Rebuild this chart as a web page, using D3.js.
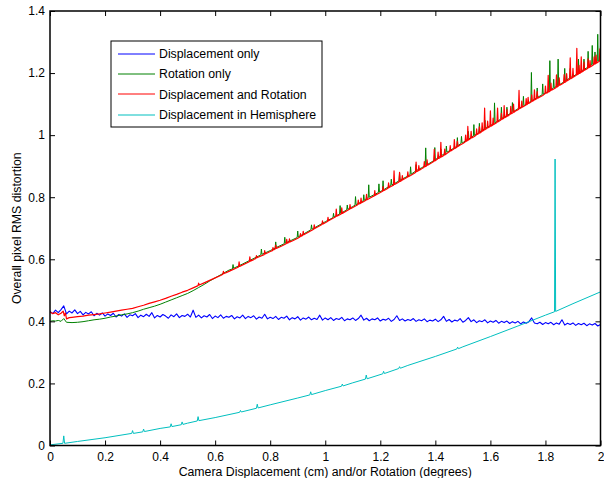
<!DOCTYPE html>
<html><head><meta charset="utf-8">
<script src="https://cdn.jsdelivr.net/npm/d3@7"></script>
<style>
html,body{margin:0;padding:0;background:#fff;}
svg{display:block;font-family:"Liberation Sans",Arial,sans-serif;}
</style></head>
<body><svg id="c" width="604" height="478"></svg>
<script>
// ---- data ----
const seriesNames = ["Displacement only","Rotation only","Displacement and Rotation","Displacement in Hemisphere"];
const xTicks = [0,0.2,0.4,0.6,0.8,1,1.2,1.4,1.6,1.8,2];
const yTicks = [0,0.2,0.4,0.6,0.8,1,1.2,1.4];
// sampling grid for the blue series: 0 .. 2 step 0.01
const blueX = d3.range(201).map(i => i / 100);
const blueY = [
0.432,0.425,0.436,0.428,0.438,0.450,0.424,0.433,0.427,0.437,
0.425,0.432,0.421,0.429,0.424,0.431,0.418,0.426,0.420,0.427,
0.417,0.424,0.419,0.426,0.414,0.422,0.417,0.424,0.413,0.421,
0.418,0.425,0.412,0.420,0.415,0.423,0.416,0.428,0.411,0.419,
0.414,0.422,0.417,0.410,0.421,0.415,0.424,0.412,0.419,0.416,
0.423,0.414,0.436,0.413,0.420,0.411,0.418,0.414,0.422,0.409,
0.417,0.412,0.421,0.410,0.416,0.413,0.419,0.408,0.415,0.411,
0.420,0.409,0.416,0.412,0.418,0.407,0.414,0.410,0.423,0.408,
0.413,0.409,0.416,0.406,0.413,0.410,0.417,0.405,0.412,0.408,
0.415,0.404,0.411,0.407,0.414,0.405,0.410,0.406,0.420,0.404,
0.411,0.405,0.412,0.403,0.409,0.406,0.413,0.402,0.408,0.405,
0.411,0.403,0.409,0.420,0.404,0.410,0.402,0.408,0.405,0.411,
0.401,0.407,0.404,0.410,0.400,0.406,0.418,0.403,0.408,0.401,
0.406,0.403,0.409,0.400,0.405,0.402,0.408,0.399,0.404,0.401,
0.407,0.399,0.405,0.416,0.400,0.406,0.398,0.404,0.401,0.409,
0.397,0.403,0.412,0.399,0.405,0.396,0.402,0.399,0.405,0.395,
0.401,0.397,0.403,0.394,0.400,0.396,0.401,0.393,0.399,0.395,
0.400,0.392,0.398,0.394,0.399,0.411,0.395,0.392,0.397,0.390,
0.396,0.392,0.397,0.389,0.395,0.391,0.405,0.388,0.394,0.390,
0.395,0.387,0.393,0.389,0.394,0.386,0.392,0.388,0.393,0.385,
0.390];

// Rotation only: [x, y] points (narrow spikes as triplets)
const greenPts = [
[0,0.400],[0.01,0.402],[0.02,0.401],[0.03,0.403],[0.04,0.400],[0.05,0.409],[0.06,0.397],[0.08,0.396],
[0.10,0.397],[0.12,0.399],[0.14,0.402],[0.16,0.405],[0.18,0.407],[0.20,0.410],[0.22,0.414],[0.24,0.417],
[0.26,0.421],[0.28,0.424],[0.30,0.428],[0.32,0.433],[0.34,0.439],[0.36,0.444],[0.38,0.449],[0.40,0.455],
[0.42,0.462],[0.44,0.469],[0.46,0.476],[0.48,0.483],[0.50,0.490],[0.52,0.499],[0.54,0.509],[0.56,0.519],
[0.58,0.530],[0.60,0.540],[0.65,0.565],
[0.663,0.569],[0.665,0.583],[0.667,0.571],[0.70,0.585],[0.75,0.607],
[0.766,0.614],[0.768,0.633],[0.770,0.616],[0.80,0.628],
[0.818,0.636],[0.82,0.656],[0.822,0.638],
[0.851,0.650],[0.853,0.671],[0.855,0.652],
[0.898,0.670],[0.90,0.691],[0.902,0.672],
[0.948,0.695],[0.95,0.711],[0.952,0.697],[1.00,0.721],[1.05,0.745],
[1.052,0.746],[1.054,0.773],[1.056,0.748],[1.10,0.770],
[1.108,0.774],[1.11,0.802],[1.112,0.776],[1.15,0.796],
[1.156,0.798],[1.158,0.840],[1.160,0.800],
[1.193,0.815],[1.195,0.843],[1.197,0.817],
[1.208,0.822],[1.21,0.853],[1.212,0.824],[1.25,0.843],[1.30,0.868],
[1.308,0.872],[1.31,0.898],[1.312,0.874],[1.35,0.895],
[1.363,0.901],[1.365,0.959],[1.367,0.903],
[1.396,0.919],[1.398,0.960],[1.400,0.921],[1.45,0.949],
[1.478,0.964],[1.48,0.992],[1.482,0.966],[1.50,0.976],
[1.538,0.997],[1.54,1.034],[1.542,0.999],
[1.558,1.008],[1.56,1.038],[1.562,1.010],[1.60,1.031],
[1.613,1.038],[1.615,1.104],[1.617,1.040],
[1.638,1.052],[1.64,1.090],[1.642,1.054],[1.70,1.085],
[1.747,1.109],[1.749,1.202],[1.751,1.111],
[1.768,1.120],[1.77,1.152],[1.772,1.122],[1.80,1.136],
[1.814,1.143],[1.816,1.240],[1.818,1.145],
[1.844,1.159],[1.846,1.245],[1.848,1.161],
[1.868,1.172],[1.87,1.215],[1.872,1.174],[1.90,1.189],
[1.918,1.199],[1.92,1.245],[1.922,1.201],
[1.953,1.218],[1.955,1.270],[1.957,1.220],
[1.968,1.226],[1.97,1.289],[1.972,1.228],
[1.988,1.237],[1.99,1.325],[1.992,1.239],
[1.998,1.243],[2.0,1.290]];
// Rotation only: smaller spikes
const greenFine = [
[1.028,0.734],[1.03,0.748],[1.032,0.736],
[1.078,0.759],[1.08,0.775],[1.082,0.761],
[1.138,0.788],[1.14,0.808],[1.142,0.790],
[1.238,0.838],[1.24,0.858],[1.242,0.840],
[1.268,0.853],[1.27,0.878],[1.272,0.855],
[1.328,0.884],[1.33,0.905],[1.332,0.886],
[1.418,0.932],[1.42,0.955],[1.422,0.934],
[1.438,0.943],[1.44,0.965],[1.442,0.945],
[1.493,0.973],[1.495,0.996],[1.497,0.974],
[1.518,0.986],[1.52,1.012],[1.522,0.988],
[1.578,1.020],[1.58,1.048],[1.582,1.022],
[1.658,1.062],[1.66,1.090],[1.662,1.064],
[1.678,1.073],[1.68,1.105],[1.682,1.075],
[1.718,1.093],[1.72,1.125],[1.722,1.095],
[1.788,1.130],[1.79,1.165],[1.792,1.132],
[1.828,1.151],[1.83,1.180],[1.832,1.153],
[1.888,1.184],[1.89,1.215],[1.892,1.186],
[1.938,1.211],[1.94,1.245],[1.942,1.213],
[1.978,1.232],[1.98,1.268],[1.982,1.234]];

// Displacement and Rotation: [x, y] points
const redPts = [
[0,0.430],[0.01,0.425],[0.02,0.428],[0.03,0.421],[0.04,0.426],[0.048,0.433],[0.052,0.418],[0.056,0.427],
[0.06,0.408],[0.07,0.412],[0.08,0.413],[0.10,0.415],[0.12,0.417],[0.14,0.420],[0.16,0.422],[0.18,0.424],
[0.20,0.427],[0.22,0.430],[0.24,0.433],[0.26,0.436],[0.28,0.439],[0.30,0.442],[0.32,0.447],[0.34,0.452],
[0.36,0.458],[0.38,0.463],[0.40,0.468],[0.42,0.474],[0.44,0.481],[0.46,0.487],[0.48,0.494],[0.50,0.500],
[0.52,0.508],[0.538,0.515],[0.54,0.523],[0.542,0.517],[0.56,0.524],[0.58,0.532],[0.60,0.540],[0.62,0.548],
[0.64,0.557],[0.66,0.565],
[0.685,0.575],[0.687,0.592],[0.689,0.577],[0.70,0.582],
[0.724,0.592],[0.726,0.608],[0.728,0.594],[0.74,0.599],[0.76,0.608],
[0.778,0.615],[0.78,0.628],[0.782,0.617],[0.80,0.625],
[0.818,0.633],[0.82,0.646],[0.822,0.635],[0.84,0.642],
[0.858,0.650],[0.86,0.664],[0.862,0.652],[0.88,0.659],[0.90,0.668],
[0.918,0.677],[0.92,0.690],[0.922,0.679],[0.94,0.688],
[0.958,0.697],[0.96,0.711],[0.962,0.699],[0.98,0.708],[1.00,0.718],[1.02,0.728],
[1.038,0.737],[1.04,0.762],[1.042,0.739],
[1.058,0.746],[1.06,0.766],[1.062,0.748],[1.08,0.757],[1.10,0.767],
[1.118,0.776],[1.12,0.791],[1.122,0.778],[1.14,0.786],
[1.148,0.790],[1.15,0.809],[1.152,0.792],[1.17,0.801],
[1.178,0.804],[1.18,0.821],[1.182,0.806],[1.20,0.815],[1.22,0.825],[1.24,0.835],
[1.248,0.839],[1.25,0.885],[1.252,0.841],
[1.268,0.849],[1.27,0.880],[1.272,0.851],[1.29,0.860],[1.31,0.870],
[1.328,0.880],[1.33,0.913],[1.332,0.882],[1.35,0.892],
[1.368,0.901],[1.37,0.920],[1.372,0.903],
[1.394,0.915],[1.396,0.954],[1.398,0.917],
[1.418,0.928],[1.42,0.977],[1.422,0.930],[1.44,0.940],
[1.452,0.947],[1.454,0.966],[1.456,0.949],
[1.467,0.955],[1.469,0.986],[1.471,0.957],[1.49,0.968],[1.50,0.973],
[1.516,0.982],[1.518,1.028],[1.520,0.984],[1.54,0.995],
[1.558,1.005],[1.56,1.027],[1.562,1.007],
[1.577,1.016],[1.579,1.087],[1.581,1.018],
[1.598,1.027],[1.60,1.078],[1.602,1.029],
[1.624,1.041],[1.626,1.087],[1.628,1.043],
[1.648,1.054],[1.65,1.095],[1.652,1.056],
[1.672,1.067],[1.674,1.093],[1.676,1.069],[1.69,1.077],
[1.702,1.083],[1.704,1.144],[1.706,1.085],[1.72,1.092],
[1.735,1.100],[1.737,1.122],[1.739,1.102],
[1.758,1.112],[1.76,1.146],[1.762,1.114],[1.78,1.123],[1.79,1.128],
[1.808,1.137],[1.81,1.193],[1.812,1.139],[1.83,1.149],
[1.838,1.153],[1.84,1.194],[1.842,1.155],[1.86,1.165],
[1.875,1.173],[1.877,1.198],[1.879,1.175],
[1.888,1.180],[1.89,1.249],[1.892,1.182],
[1.912,1.193],[1.914,1.280],[1.916,1.195],
[1.928,1.201],[1.93,1.252],[1.932,1.203],
[1.953,1.215],[1.955,1.246],[1.957,1.217],
[1.975,1.227],[1.977,1.252],[1.979,1.229],[1.99,1.235],
[1.996,1.238],[1.998,1.278],[2.0,1.242]];
// Displacement and Rotation: smaller spikes
const redFine = [
[0.628,0.552],[0.63,0.561],[0.632,0.554],
[0.748,0.603],[0.75,0.612],[0.752,0.605],
[0.808,0.628],[0.81,0.638],[0.812,0.630],
[0.868,0.654],[0.87,0.666],[0.872,0.656],
[0.908,0.672],[0.91,0.683],[0.912,0.674],
[0.988,0.712],[0.99,0.724],[0.992,0.714],
[1.008,0.722],[1.01,0.735],[1.012,0.724],
[1.088,0.761],[1.09,0.776],[1.092,0.763],
[1.128,0.780],[1.13,0.797],[1.132,0.782],
[1.208,0.819],[1.21,0.834],[1.212,0.821],
[1.228,0.829],[1.23,0.846],[1.232,0.831],
[1.278,0.854],[1.28,0.870],[1.282,0.856],
[1.298,0.864],[1.30,0.882],[1.302,0.866],
[1.338,0.885],[1.34,0.902],[1.342,0.887],
[1.358,0.896],[1.36,0.915],[1.362,0.898],
[1.408,0.923],[1.41,0.945],[1.412,0.925],
[1.432,0.935],[1.434,0.955],[1.436,0.937],
[1.478,0.961],[1.48,0.980],[1.482,0.963],
[1.508,0.978],[1.51,1.000],[1.512,0.980],
[1.528,0.989],[1.53,1.012],[1.532,0.991],
[1.548,1.000],[1.55,1.020],[1.552,1.002],
[1.568,1.011],[1.57,1.040],[1.572,1.013],
[1.588,1.022],[1.59,1.045],[1.592,1.024],
[1.608,1.032],[1.61,1.055],[1.612,1.034],
[1.638,1.049],[1.64,1.070],[1.642,1.051],
[1.658,1.059],[1.66,1.082],[1.662,1.061],
[1.682,1.072],[1.684,1.100],[1.686,1.074],
[1.712,1.088],[1.714,1.110],[1.716,1.090],
[1.728,1.096],[1.73,1.118],[1.732,1.098],
[1.748,1.107],[1.75,1.130],[1.752,1.109],
[1.768,1.117],[1.77,1.140],[1.772,1.119],
[1.798,1.133],[1.80,1.158],[1.802,1.135],
[1.818,1.143],[1.82,1.168],[1.822,1.145],
[1.848,1.159],[1.85,1.185],[1.852,1.161],
[1.866,1.168],[1.868,1.195],[1.87,1.170],
[1.898,1.185],[1.90,1.215],[1.902,1.187],
[1.92,1.197],[1.922,1.225],[1.924,1.199],
[1.938,1.207],[1.94,1.235],[1.942,1.209],
[1.96,1.218],[1.962,1.240],[1.964,1.220],
[1.982,1.230],[1.984,1.258],[1.986,1.232]];

// Displacement in Hemisphere
const cyanX = [0,0.047,0.05,0.053,0.1,0.2,0.297,0.30,0.303,0.337,0.34,0.343,0.4,0.437,0.44,0.443,
0.477,0.48,0.483,0.5,0.535,0.538,0.541,0.6,0.689,0.692,0.695,0.75,0.753,0.756,0.8,0.9,
0.944,0.947,0.95,1.0,1.059,1.062,1.065,1.1,1.146,1.149,1.152,1.209,1.212,1.215,1.267,1.27,
1.273,1.3,1.4,1.478,1.481,1.484,1.5,1.6,1.7,1.8,1.833,1.835,1.837,1.9,2.0];
const cyanY = [0.002,0.007,0.031,0.007,0.013,0.025,0.039,0.048,0.039,0.044,0.053,0.045,0.055,0.060,0.070,0.061,
0.067,0.076,0.068,0.072,0.079,0.093,0.080,0.090,0.107,0.113,0.108,0.120,0.133,0.121,0.131,0.153,
0.163,0.173,0.164,0.177,0.191,0.198,0.192,0.202,0.214,0.227,0.215,0.231,0.239,0.232,0.248,0.254,
0.249,0.258,0.287,0.311,0.317,0.312,0.318,0.351,0.385,0.420,0.431,0.923,0.432,0.457,0.495];

const colors = ["#0000ff","#008000","#ff0000","#00bfbf"];
const widths = [1.1,1,1.2,1];

// ---- layout ----
const svg = d3.select("#c");
const L = 50, R = 600.5, T = 11, B = 445.5;
const x = d3.scaleLinear().domain([0,2]).range([L,R]);
const y = d3.scaleLinear().domain([0,1.4]).range([B,T]);

svg.append("rect").attr("width",604).attr("height",478).attr("fill","#fff");

svg.append("defs").append("clipPath").attr("id","clip")
  .append("rect").attr("x",L).attr("y",T).attr("width",R-L).attr("height",B-T);

const line = d3.line().x(d=>x(d[0])).y(d=>y(d[1]));
const zip = (xa,ya)=>xa.map((v,i)=>[v,ya[i]]);
const byX = (a,b)=>a[0]-b[0];
const data = [
  zip(blueX,blueY),
  greenPts.concat(greenFine).sort(byX),
  redPts.concat(redFine).sort(byX),
  zip(cyanX,cyanY)
];

const g = svg.append("g").attr("clip-path","url(#clip)");
data.forEach((d,i)=>{
  g.append("path").attr("d",line(d)).attr("fill","none")
   .attr("stroke",colors[i]).attr("stroke-width",widths[i]).attr("stroke-linejoin","round");
});

// axes (inward ticks on all four sides)
const fs = "12px";
const ax = svg.append("g").attr("transform",`translate(0,${B})`)
  .call(d3.axisBottom(x).tickValues(xTicks).tickSize(-5).tickPadding(7).tickFormat(d3.format("~g")));
const ay = svg.append("g").attr("transform",`translate(${L},0)`)
  .call(d3.axisLeft(y).tickValues(yTicks).tickSize(-5).tickPadding(5).tickFormat(d3.format("~g")));
const axT = svg.append("g").attr("transform",`translate(0,${T})`)
  .call(d3.axisTop(x).tickValues(xTicks).tickSize(-5).tickFormat(""));
const ayR = svg.append("g").attr("transform",`translate(${R},0)`)
  .call(d3.axisRight(y).tickValues(yTicks).tickSize(-5).tickFormat(""));
[ax,ay,axT,ayR].forEach(a=>{
  a.select(".domain").remove();
  a.selectAll("line").attr("stroke","#000").attr("stroke-width",1);
  a.selectAll("text").attr("fill","#000").style("font-size",fs)
   .style("font-family","'Liberation Sans',Arial,sans-serif");
});
svg.append("rect").attr("x",L).attr("y",T).attr("width",R-L).attr("height",B-T)
  .attr("fill","none").attr("stroke","#000").attr("stroke-width",1.5);

// axis titles
svg.append("text").attr("x",(L+R)/2).attr("y",475.5).attr("text-anchor","middle")
  .style("font-size","12.3px").text("Camera Displacement (cm) and/or Rotation (degrees)");
svg.append("text").attr("transform",`translate(20.5,${(T+B)/2}) rotate(-90)`)
  .attr("text-anchor","middle").style("font-size","12.3px").text("Overall pixel RMS distortion");

// legend
const lg = svg.append("g");
lg.append("rect").attr("x",111).attr("y",41).attr("width",211).attr("height",86)
  .attr("fill","#fff").attr("stroke","#000").attr("stroke-width",1);
seriesNames.forEach((n,i)=>{
  const yy = 53.5 + i*20.4;
  lg.append("line").attr("x1",118).attr("x2",155).attr("y1",Math.round(yy)).attr("y2",Math.round(yy))
    .attr("stroke",colors[i]).attr("stroke-width",1);
  lg.append("text").attr("x",159).attr("y",yy).attr("dy","0.35em")
    .style("font-size","12.3px").text(n);
});
</script></body></html>
